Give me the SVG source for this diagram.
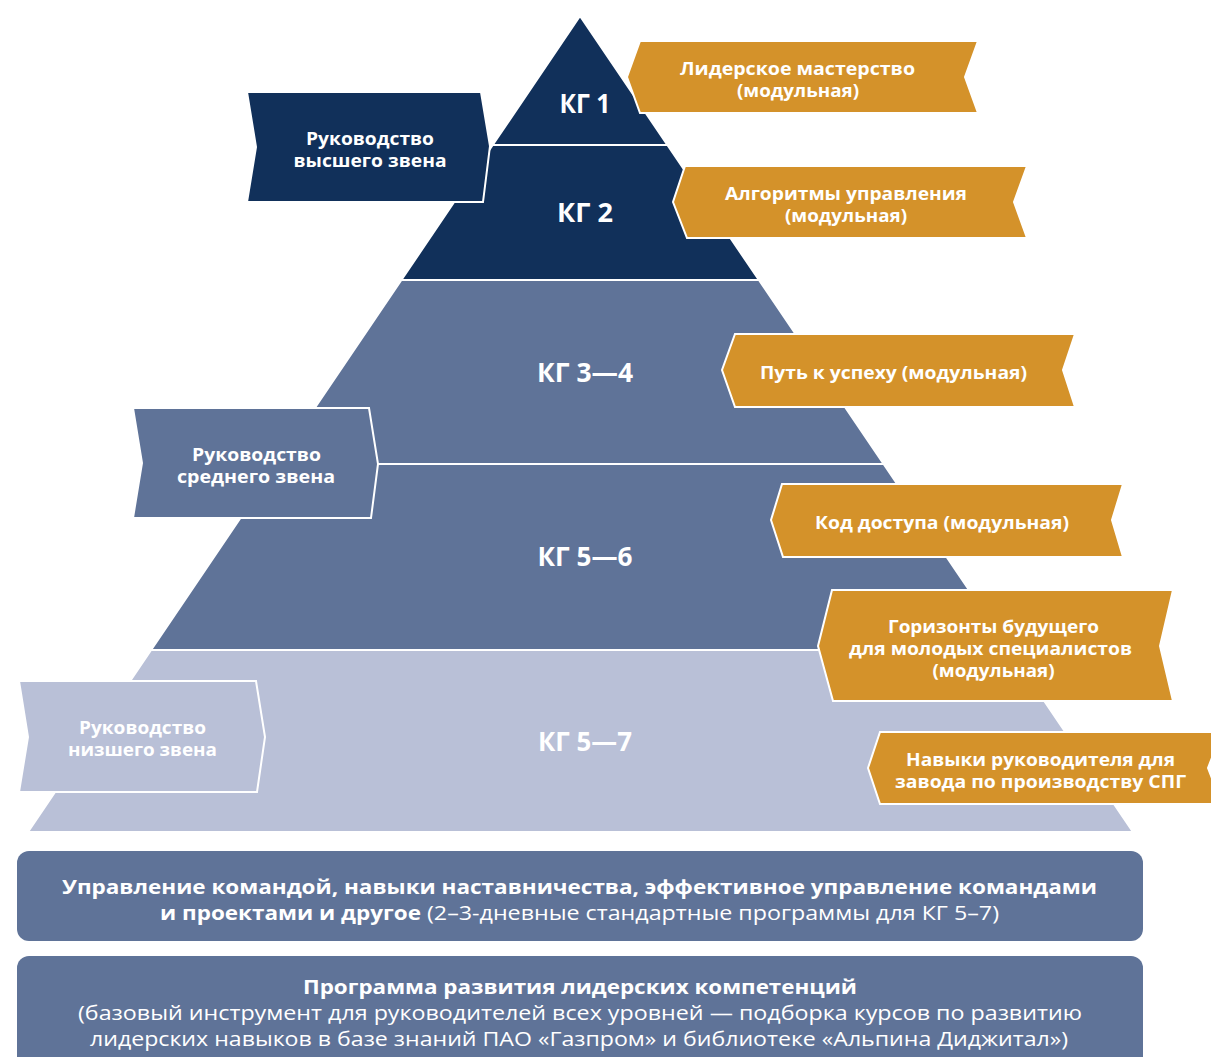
<svg xmlns="http://www.w3.org/2000/svg" width="1211" height="1057" viewBox="0 0 1211 1057">
<style>
text{font-family:"Open Sans","Noto Sans","DejaVu Sans",sans-serif;fill:#ffffff}
.b{font-weight:700}
.r{font-weight:400}
.kg{font-size:26px;font-weight:700;text-anchor:middle}
.tg{font-size:17px;font-weight:700;text-anchor:middle}
.bt{font-size:20px}
.dark{fill:#11305A}
.mid{fill:#5F7398}
.light{fill:#B9C0D7}
.org{fill:#D4922A}
.band{stroke:#ffffff;stroke-width:2}
.tag{stroke:#ffffff;stroke-width:2;stroke-linejoin:miter}
</style>
<rect width="1211" height="1057" fill="#ffffff"/>
<g id="pyramid">
<polygon class="band dark" points="580,16 667.4,145 492.7,145"/>
<polygon class="band dark" points="492.7,145 667.4,145 758.9,280 401.4,280"/>
<polygon class="band mid" points="401.4,280 758.9,280 883.6,464 276.9,464"/>
<polygon class="band mid" points="276.9,464 883.6,464 1009.7,650 151.1,650"/>
<polygon class="band light" points="151.1,650 1009.7,650 1133,832 28,832"/>
</g>
<g id="kg-labels">
<text id="kg1" class="kg" x="585" y="113" textLength="51" lengthAdjust="spacingAndGlyphs">КГ 1</text>
<text id="kg2" class="kg" x="585" y="222" textLength="56" lengthAdjust="spacingAndGlyphs">КГ 2</text>
<text id="kg34" class="kg" x="585" y="382" textLength="96" lengthAdjust="spacingAndGlyphs">КГ 3—4</text>
<text id="kg56" class="kg" x="585" y="566" textLength="95" lengthAdjust="spacingAndGlyphs">КГ 5—6</text>
<text id="kg57" class="kg" x="585" y="751" textLength="94" lengthAdjust="spacingAndGlyphs">КГ 5—7</text>
</g>
<g id="tag-top-mgmt">
<path class="tag dark" d="M247,92 L481,92 L490,146 L483,202 L247,202 L256,147 Z"/>
<text class="tg" x="370" y="145" textLength="128" lengthAdjust="spacingAndGlyphs">Руководство</text>
<text class="tg" x="370" y="167" textLength="153" lengthAdjust="spacingAndGlyphs">высшего звена</text>
</g>
<g id="tag-mid-mgmt">
<path class="tag mid" d="M133,408 L369,408 L378,464 L371,518 L133,518 L142,463 Z"/>
<text class="tg" x="256.5" y="461" textLength="129" lengthAdjust="spacingAndGlyphs">Руководство</text>
<text class="tg" x="256" y="483" textLength="158" lengthAdjust="spacingAndGlyphs">среднего звена</text>
</g>
<g id="tag-low-mgmt">
<path class="tag light" d="M19,681 L256,681 L265,737 L257,792 L19,792 L28,737 Z"/>
<text class="tg" x="142.5" y="734" textLength="127" lengthAdjust="spacingAndGlyphs">Руководство</text>
<text class="tg" x="142.5" y="756" textLength="149" lengthAdjust="spacingAndGlyphs">низшего звена</text>
</g>
<g id="prog-1">
<path class="tag org" d="M640,41 L978,41 L965,77 L978,113 L640,113 L627,77 Z"/>
<text class="tg" x="797.5" y="75" textLength="235" lengthAdjust="spacingAndGlyphs">Лидерское мастерство</text>
<text class="tg" x="798" y="97" textLength="122" lengthAdjust="spacingAndGlyphs">(модульная)</text>
</g>
<g id="prog-2">
<path class="tag org" d="M685,166 L1027,166 L1014,202 L1027,238 L687,238 L673,202 Z"/>
<text class="tg" x="846" y="200" textLength="242" lengthAdjust="spacingAndGlyphs">Алгоритмы управления</text>
<text class="tg" x="846" y="222" textLength="122" lengthAdjust="spacingAndGlyphs">(модульная)</text>
</g>
<g id="prog-3">
<path class="tag org" d="M735,334 L1075,334 L1063,370 L1075,407 L735,407 L722,370 Z"/>
<text class="tg" x="893.5" y="379" textLength="267" lengthAdjust="spacingAndGlyphs">Путь к успеху (модульная)</text>
</g>
<g id="prog-4">
<path class="tag org" d="M782,484 L1123,484 L1112,520 L1123,557 L783,557 L771,520 Z"/>
<text class="tg" x="942" y="529" textLength="254" lengthAdjust="spacingAndGlyphs">Код доступа (модульная)</text>
</g>
<g id="prog-5">
<path class="tag org" d="M832,590 L1173,590 L1160,646 L1173,701 L833,701 L818,646 Z"/>
<text class="tg" x="993.5" y="633" textLength="211" lengthAdjust="spacingAndGlyphs">Горизонты будущего</text>
<text class="tg" x="990.5" y="655" textLength="283" lengthAdjust="spacingAndGlyphs">для молодых специалистов</text>
<text class="tg" x="993.5" y="677" textLength="122" lengthAdjust="spacingAndGlyphs">(модульная)</text>
</g>
<g id="prog-6">
<path class="tag org" d="M880,732 L1222,732 L1208,768 L1222,804 L880,804 L868,768 Z"/>
<text class="tg" x="1040.5" y="766" textLength="269" lengthAdjust="spacingAndGlyphs">Навыки руководителя для</text>
<text class="tg" x="1040.5" y="788" textLength="291" lengthAdjust="spacingAndGlyphs">завода по производству СПГ</text>
</g>
<g id="box-standard">
<rect class="mid" x="17" y="851" width="1126" height="90" rx="12" ry="12"/>
<text class="bt b" x="62" y="894" textLength="1035" lengthAdjust="spacingAndGlyphs">Управление командой, навыки наставничества, эффективное управление командами</text>
<text class="bt b" x="160" y="920" textLength="261" lengthAdjust="spacingAndGlyphs">и проектами и другое</text>
<text class="bt r" x="427" y="920" textLength="572" lengthAdjust="spacingAndGlyphs">(2–3-дневные стандартные программы для КГ 5–7)</text>
</g>
<g id="box-leadership">
<rect class="mid" x="17" y="956" width="1126" height="115" rx="12" ry="12"/>
<text class="bt b" x="303" y="994" textLength="554" lengthAdjust="spacingAndGlyphs">Программа развития лидерских компетенций</text>
<text class="bt r" x="78" y="1020" textLength="1004" lengthAdjust="spacingAndGlyphs">(базовый инструмент для руководителей всех уровней — подборка курсов по развитию</text>
<text class="bt r" x="90" y="1046" textLength="978" lengthAdjust="spacingAndGlyphs">лидерских навыков в базе знаний ПАО «Газпром» и библиотеке «Альпина Диджитал»)</text>
</g>
<g id="connectors"></g>
</svg>
